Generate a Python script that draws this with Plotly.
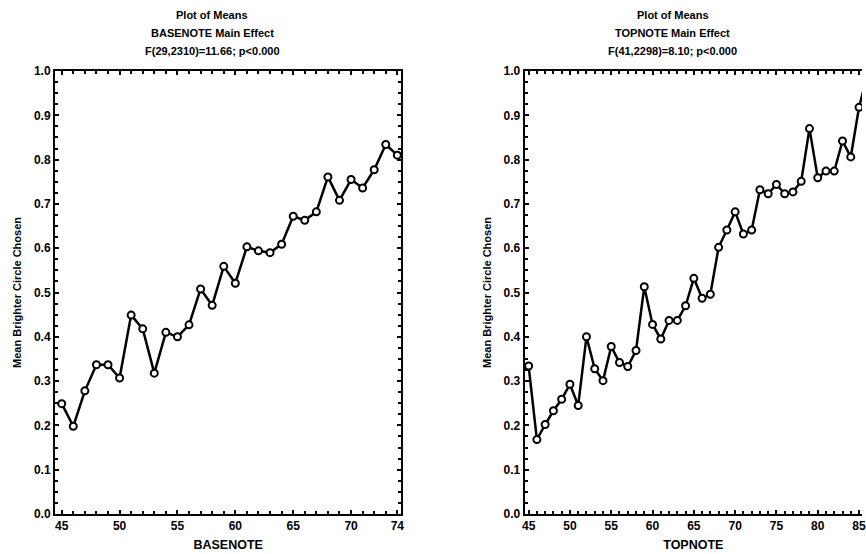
import plotly.graph_objects as go
from plotly.subplots import make_subplots

# ---- data ----
basenote = list(range(45, 75))
basenote_means = [0.249, 0.198, 0.278, 0.337, 0.337, 0.307, 0.449, 0.418, 0.318, 0.410,
                  0.400, 0.427, 0.508, 0.471, 0.559, 0.521, 0.603, 0.594, 0.590, 0.609,
                  0.672, 0.663, 0.682, 0.761, 0.708, 0.755, 0.736, 0.777, 0.834, 0.810]

topnote = list(range(45, 87))
topnote_means = [0.334, 0.168, 0.202, 0.233, 0.259, 0.293, 0.245, 0.400, 0.328, 0.301,
                 0.378, 0.342, 0.333, 0.369, 0.513, 0.428, 0.395, 0.437, 0.437, 0.470,
                 0.532, 0.487, 0.496, 0.602, 0.641, 0.682, 0.632, 0.641, 0.732, 0.723,
                 0.744, 0.723, 0.727, 0.751, 0.870, 0.759, 0.774, 0.774, 0.842, 0.806,
                 0.918, 0.990]

left_xticks = [45, 50, 55, 60, 65, 70, 74]
right_xticks = [45, 50, 55, 60, 65, 70, 75, 80, 85]
y_ticks = [0.0, 0.1, 0.2, 0.3, 0.4, 0.5, 0.6, 0.7, 0.8, 0.9, 1.0]

left_title = ["Plot of Means", "BASENOTE Main Effect", "F(29,2310)=11.66; p<0.000"]
right_title = ["Plot of Means", "TOPNOTE Main Effect", "F(41,2298)=8.10; p<0.000"]

W, H = 866, 554
ML, MR, MT, MB = 55, 0, 71, 40
PW = W - ML - MR
PH = H - MT - MB

fig = make_subplots(rows=1, cols=2)

line_style = dict(color="black", width=2.5)
marker_style = dict(symbol="circle", size=7, color="white",
                    line=dict(color="black", width=2))

fig.add_trace(go.Scatter(x=basenote, y=basenote_means, mode="lines+markers",
                         line=line_style, marker=marker_style, showlegend=False),
              row=1, col=1)
fig.add_trace(go.Scatter(x=topnote, y=topnote_means, mode="lines+markers",
                         line=line_style, marker=marker_style, showlegend=False),
              row=1, col=2)

bold = dict(family="Liberation Sans, Arial, sans-serif", color="black", weight="bold")

common_x = dict(showline=True, linecolor="black", linewidth=2, ticks="inside",
                ticklen=4, tickwidth=1.5, tickcolor="black", showgrid=False,
                zeroline=False, tickfont=dict(size=12, **bold),
                ticklabeloverflow="allow",
                minor=dict(dtick=1, ticks="inside", ticklen=3, tickwidth=1.5,
                           tickcolor="black", showgrid=False))
common_y = dict(showline=True, linecolor="black", linewidth=2, ticks="inside",
                ticklen=4, tickwidth=1.5, tickcolor="black", showgrid=False,
                zeroline=False, range=[0, 1], tickvals=y_ticks, tickformat=".1f",
                tickfont=dict(size=12, **bold),
                title=dict(text="Mean Brighter Circle Chosen",
                           font=dict(size=11, **bold), standoff=10),
                minor=dict(dtick=0.025, tick0=0, ticks="inside", ticklen=3,
                           tickwidth=1.5, tickcolor="black", showgrid=False))

x1_dom = [0, (403 - ML) / PW]
x2_dom = [(527 - ML) / PW, 1]

fig.update_xaxes(**common_x, domain=x1_dom, range=[44.42, 74.34],
                 tickvals=left_xticks, mirror="allticks",
                 minor_tick0=45,
                 title=dict(text="BASENOTE", font=dict(size=12.5, **bold), standoff=8),
                 row=1, col=1)
fig.update_xaxes(**common_x, domain=x2_dom, range=[44.52, 85.36],
                 tickvals=right_xticks, mirror="allticks",
                 minor_tick0=45,
                 title=dict(text="TOPNOTE", font=dict(size=12.5, **bold), standoff=8),
                 row=1, col=2)
fig.update_yaxes(**common_y, mirror="allticks", row=1, col=1)
fig.update_yaxes(**common_y, mirror=False, row=1, col=2)

annotations = []
for lines, cx in ((left_title, 213), (right_title, 676)):
    for i, txt in enumerate(lines):
        ypix = 15 + 18 * i
        annotations.append(dict(text=txt, xref="paper", yref="paper",
                                x=(cx - ML) / PW, y=(H - MB - ypix) / PH,
                                xanchor="center", yanchor="middle", showarrow=False,
                                font=dict(size=11, **bold)))

fig.update_layout(width=W, height=H,
                  margin=dict(l=ML, r=MR, t=MT, b=MB, pad=0),
                  paper_bgcolor="white", plot_bgcolor="white",
                  font=dict(size=12, **bold),
                  annotations=annotations)

fig.write_html("out.html", config={"displayModeBar": False})

# remove the browser's default body margin so the figure fills the window exactly
with open("out.html", "r", encoding="utf-8") as f:
    html = f.read()
html = html.replace("<head>", "<head><style>html,body{margin:0;padding:0;overflow:hidden;}</style>", 1)
with open("out.html", "w", encoding="utf-8") as f:
    f.write(html)
